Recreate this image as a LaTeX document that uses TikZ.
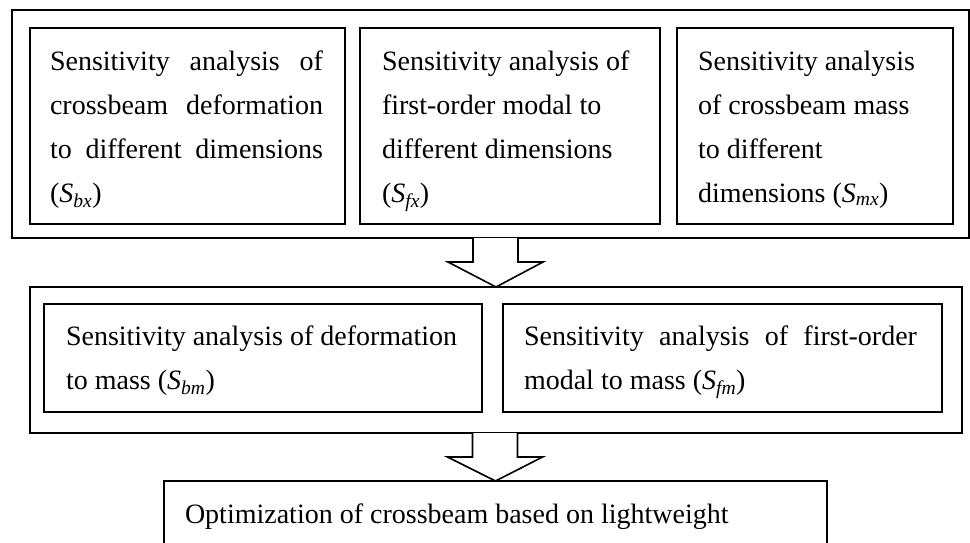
\documentclass[tikz,border=0pt]{standalone}
\usepackage{fontspec}
\setmainfont{Liberation Serif}
\usetikzlibrary{calc}
\newcommand{\Sv}[1]{\textit{S}\textsubscript{\textit{#1}}}
\begin{document}
\begin{tikzpicture}[x=1pt,y=-1pt,
  box/.style={draw, line width=1.6pt, rectangle, inner sep=0pt, outer sep=0pt, anchor=north west},
  txt/.style={anchor=base west, inner sep=0pt, outer sep=0pt, font=\fontsize{28}{44}\selectfont},
  blockarrow/.style={draw, line width=1.6pt, fill=white, line join=miter}]
\fill[white] (0,0) rectangle (970,542);
\clip (0,0) rectangle (970,542);
% top group
\node[box, minimum width=957pt, minimum height=228pt] (outer1) at (12,10) {};
\node[box, minimum width=315pt, minimum height=196pt] (b1) at (30,28) {};
\node[box, minimum width=300pt, minimum height=196pt] (b2) at (360,28) {};
\node[box, minimum width=276pt, minimum height=196pt] (b3) at (677,28) {};
\node[txt] (t1) at (50,70) {\parbox[t]{273pt}{\makebox[273pt][s]{Sensitivity analysis of}\\\makebox[273pt][s]{crossbeam deformation}\\\makebox[273pt][s]{to different dimensions}\\(\Sv{bx})}};
\node[txt] (t2) at (382,70) {\parbox[t]{268pt}{\raggedright Sensitivity analysis of\\first-order modal to\\different dimensions\\(\Sv{fx})}};
\node[txt] (t3) at (698,70) {\parbox[t]{250pt}{\raggedright Sensitivity analysis\\of crossbeam mass\\to different\\dimensions (\Sv{mx})}};
% middle group
\node[box, minimum width=932pt, minimum height=146pt] (outer2) at (30,287) {};
\node[box, minimum width=438pt, minimum height=108pt] (b4) at (44,304) {};
\node[box, minimum width=439pt, minimum height=108pt] (b5) at (503,304) {};
\node[txt] (t4) at (66,345) {\parbox[t]{410pt}{\raggedright Sensitivity analysis of deformation\\to mass (\Sv{bm})}};
\node[txt] (t5) at (524,345) {\parbox[t]{393pt}{\makebox[393pt][s]{Sensitivity analysis of first-order}\\modal to mass (\Sv{fm})}};
% bottom
\node[box, minimum width=663pt, minimum height=120pt] (b6) at (164,481) {};
\node[txt] (t6) at (185,523) {Optimization of crossbeam based on lightweight};
% block arrows
\coordinate (a1tip) at (outer2.north);
\coordinate (a1top) at (outer1.south -| a1tip);
\draw[blockarrow] ($(a1top)+(-23,0)$) -- ($(a1tip)+(-23,-25)$) -- ($(a1tip)+(-48,-25)$) -- (a1tip)
  -- ($(a1tip)+(47,-25)$) -- ($(a1tip)+(22,-25)$) -- ($(a1top)+(22,0)$);
\coordinate (a2tip) at (b6.north);
\coordinate (a2top) at (outer2.south -| a2tip);
\draw[blockarrow] ($(a2top)+(-23,0)$) -- ($(a2tip)+(-23,-24)$) -- ($(a2tip)+(-48,-24)$) -- (a2tip)
  -- ($(a2tip)+(47,-24)$) -- ($(a2tip)+(22,-24)$) -- ($(a2top)+(22,0)$);
\end{tikzpicture}
\end{document}
